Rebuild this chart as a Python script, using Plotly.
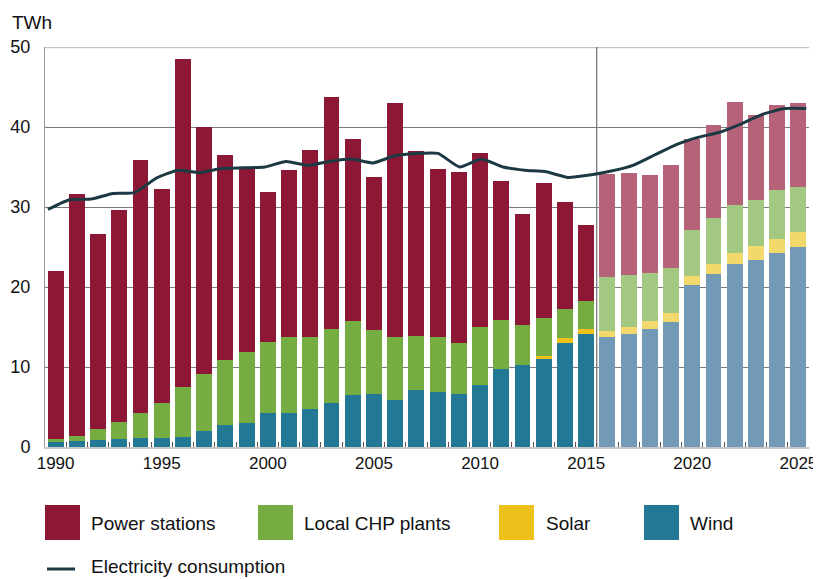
import plotly.graph_objects as go

years = list(range(1990, 2026))
wind = [0.6, 0.75, 0.9, 1.0, 1.1, 1.1, 1.2, 2.0, 2.75, 3.0, 4.2, 4.3, 4.8, 5.5, 6.5, 6.6, 5.9, 7.1,
        6.85, 6.65, 7.7, 9.7, 10.2, 11.0, 13.0, 14.1, 13.7, 14.1, 14.8, 15.6, 20.2, 21.6, 22.9, 23.4,
        24.2, 25.0]
solar = [0, 0, 0, 0, 0, 0, 0, 0, 0, 0, 0, 0, 0, 0, 0, 0, 0, 0, 0, 0, 0, 0, 0, 0.4, 0.6, 0.6,
         0.85, 0.9, 0.9, 1.1, 1.2, 1.3, 1.3, 1.7, 1.8, 1.9]
chp = [0.4, 0.65, 1.3, 2.1, 3.1, 4.4, 6.3, 7.1, 8.15, 8.9, 8.9, 9.45, 9.0, 9.2, 9.2, 8.05, 7.8, 6.8,
       6.85, 6.3, 7.3, 6.2, 5.0, 4.7, 3.65, 3.5, 6.75, 6.5, 6.0, 5.7, 5.7, 5.75, 6.1, 5.8, 6.1, 5.6]
power = [21.0, 30.2, 24.4, 26.5, 31.7, 26.7, 41.0, 30.9, 25.6, 22.8, 18.8, 20.85, 23.3, 29.1, 22.8,
         19.15, 29.3, 23.1, 21.0, 21.45, 21.7, 17.4, 13.9, 16.9, 13.4, 9.5, 12.8, 12.7, 12.3, 12.9,
         11.4, 11.6, 12.8, 10.6, 10.7, 10.5]
consumption = [29.7, 30.9, 31.0, 31.7, 31.8, 33.6, 34.6, 34.3, 34.8, 34.9, 35.0, 35.7, 35.2, 35.7,
               36.0, 35.5, 36.4, 36.7, 36.7, 35.0, 36.0, 35.0, 34.6, 34.4, 33.7, 34.0, 34.5, 35.2,
               36.5, 37.8, 38.7, 39.35, 40.4, 41.6, 42.3, 42.3]
last_actual = 2015
x_labels = [1990, 1995, 2000, 2005, 2010, 2015, 2020, 2025]
y_ticks = [0, 10, 20, 30, 40, 50]

series = [
    ("Wind", wind, "#227895", "#7299B6"),
    ("Solar", solar, "#EEC11A", "#F3D86B"),
    ("Local CHP plants", chp, "#76AD42", "#A2C882"),
    ("Power stations", power, "#8C1836", "#B6637A"),
]

FONT = "Liberation Sans, Arial, sans-serif"
fig = go.Figure()
for name, vals, c_hist, c_proj in series:
    fig.add_trace(go.Bar(
        x=years, y=vals, name=name,
        marker=dict(color=[c_hist if yr <= last_actual else c_proj for yr in years], line=dict(width=0)),
        showlegend=False,
    ))

fig.add_trace(go.Scatter(
    x=years, y=consumption, name="Electricity consumption", mode="lines", xaxis="x2",
    line=dict(color="#1d3a44", width=3, shape="spline", smoothing=0.5), showlegend=False,
))

# page has an 8px body margin; figure sized to fit the window
OFF = 8
W, H = 813, 571
ml, mr, mt, mb = 37, 12, 39, 132
pw, ph = W - ml - mr, H - mt - mb


def px(x):
    return (x - OFF - ml) / pw


def py(y):
    return (H - mb - (y - OFF)) / ph


shapes = [
    dict(type="line", xref="x", yref="y", x0=last_actual + 0.5, x1=last_actual + 0.5, y0=0, y1=50,
         line=dict(color="#555555", width=1), layer="below"),
    dict(type="line", xref="paper", yref="y", x0=0, x1=1, y0=50, y1=50,
         line=dict(color="#c4c4c4", width=2.5), layer="below"),
]
annotations = [
    dict(text="TWh", xref="paper", yref="paper", x=px(10), y=py(22), xanchor="left", yanchor="middle",
         showarrow=False, font=dict(size=19, color="#111", family=FONT)),
]

legend_items = [
    ("Power stations", "#8C1836", 45, 89),
    ("Local CHP plants", "#76AD42", 258, 302),
    ("Solar", "#EEC11A", 499, 544),
    ("Wind", "#227895", 644, 688),
]
for label, color, sx, tx in legend_items:
    shapes.append(dict(type="rect", xref="paper", yref="paper", x0=px(sx), x1=px(sx + 35),
                       y0=py(505), y1=py(540), fillcolor=color, line=dict(width=0)))
    annotations.append(dict(text=label, xref="paper", yref="paper", x=px(tx), y=py(523),
                            xanchor="left", yanchor="middle", showarrow=False,
                            font=dict(size=19, color="#111", family=FONT)))
shapes.append(dict(type="line", xref="paper", yref="paper", x0=px(47), x1=px(75), y0=py(569), y1=py(569),
                   line=dict(color="#1d3a44", width=3)))
annotations.append(dict(text="Electricity consumption", xref="paper", yref="paper", x=px(89), y=py(566),
                        xanchor="left", yanchor="middle", showarrow=False,
                        font=dict(size=19, color="#111", family=FONT)))

fig.update_layout(
    width=W, height=H,
    margin=dict(l=ml, r=mr, t=mt, b=mb, autoexpand=False),
    paper_bgcolor="white", plot_bgcolor="white",
    barmode="stack", bargap=0.25,
    font=dict(family=FONT, size=18, color="#111"),
    xaxis=dict(range=[1989.5, 2025.5], tickmode="array", tickvals=x_labels, ticks="", automargin=False,
               showgrid=False, showline=True, linecolor="#c8c8c8", linewidth=2, zeroline=False,
               tickfont=dict(size=17, color="#111"),
               minor=dict(tickmode="array", tickvals=[yr + 0.5 for yr in years[:-1]], ticks="inside",
                          ticklen=5, tickcolor="#555", tickwidth=1, showgrid=False)),
    xaxis2=dict(overlaying="x", range=[1989.862, 2025.125], visible=False),
    yaxis=dict(range=[0, 50], tickmode="array", tickvals=y_ticks, showgrid=True, gridcolor="#7a7a7a",
               gridwidth=1, showline=True, linecolor="#9a9a9a", linewidth=1, zeroline=False,
               automargin=False, ticks="", ticklabelstandoff=10, tickfont=dict(size=18, color="#111")),
    shapes=shapes, annotations=annotations,
)

fig.write_html("out.html")
